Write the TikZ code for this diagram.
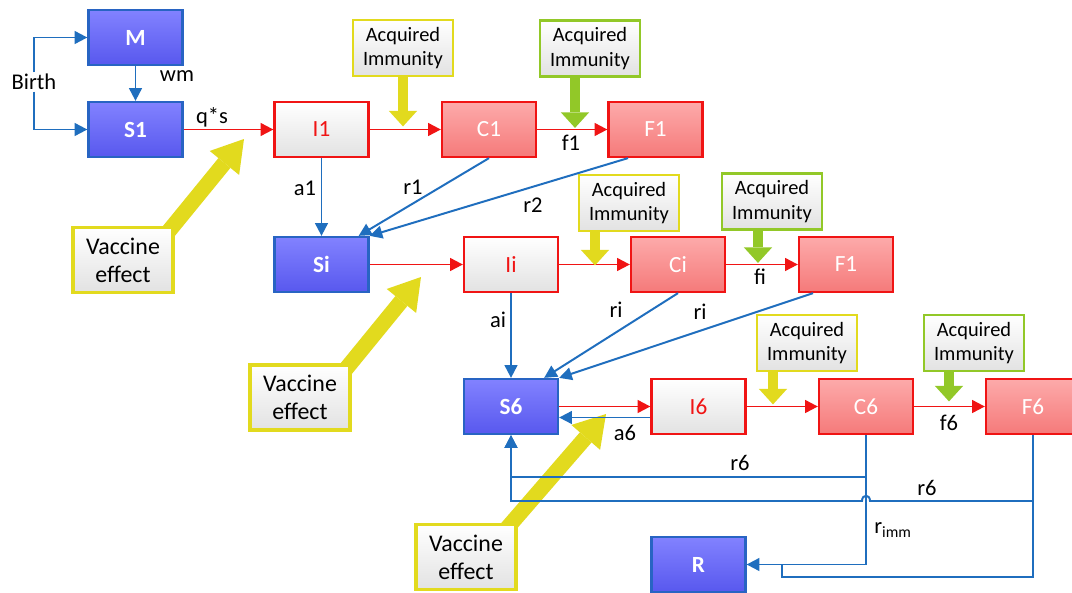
\documentclass[tikz,border=0pt]{standalone}
\usepackage{fontspec}
\setmainfont{Carlito}
\usepackage{tikz}
\usetikzlibrary{arrows.meta, positioning, calc}
\definecolor{linkblue}{RGB}{31,110,190}
\definecolor{boxedge}{RGB}{40,100,195}
\definecolor{bluetop}{RGB}{130,130,255}
\definecolor{bluebot}{RGB}{88,88,238}
\definecolor{redline}{RGB}{240,20,20}
\definecolor{redtop}{RGB}{253,170,170}
\definecolor{redbot}{RGB}{245,122,122}
\definecolor{greybot}{RGB}{226,226,226}
\definecolor{vacyellow}{RGB}{226,218,30}
\definecolor{immgreen}{RGB}{146,200,40}

\begin{document}
\begin{tikzpicture}[x=0.025cm, y=-0.025cm,
		box/.style={draw, line width=1.6pt, minimum width=2.35cm, minimum height=1.375cm, inner sep=0pt, font=\fontsize{16.5}{18}\selectfont},
		sbox/.style={box, draw=boxedge, top color=bluetop, bottom color=bluebot, text=white, font=\fontsize{16.5}{18}\selectfont\bfseries},
		ibox/.style={box, draw=redline, top color=white, bottom color=greybot, text=redline},
		cbox/.style={box, draw=redline, top color=redtop, bottom color=redbot, text=white},
		immbox/.style={draw, line width=2pt, top color=white, bottom color=greybot, minimum width=2.5cm, minimum height=1.4cm, inner sep=0pt, align=center, font=\fontsize{14.5}{17.5}\selectfont},
		vacbox/.style={draw=vacyellow, line width=2.2pt, top color=white, bottom color=greybot, minimum width=2.5cm, minimum height=1.625cm, inner sep=0pt, align=center, font=\fontsize{17}{20}\selectfont},
		lbl/.style={font=\fontsize{16}{18}\selectfont, inner sep=1pt},
		redarr/.style={draw=redline, line width=1.4pt, -{Triangle[width=9pt,length=9pt]}},
		bluearr/.style={draw=linkblue, line width=1.4pt, -{Triangle[width=9pt,length=9pt]}},
		blueline/.style={draw=linkblue, line width=1.4pt},
		immarr/.style={line width=7pt, -{Triangle[width=20pt,length=11pt,line width=0pt]}},
		vacarr/.style={draw=vacyellow, line width=11pt, -{Triangle[width=27pt,length=22pt,line width=0pt]}}]
			\fill[white] (0,0) rectangle (1072,592);
			\clip (0,0) rectangle (1072,592);
			\draw[vacarr] (164,237) -- (244,139);
			\draw[vacarr] (341,375) -- (421,277);
			\draw[vacarr] (502,534) -- (606,414);
			\node[sbox] (M) at (135.5,37.5) {M};
			\node[sbox] (S1) at (135.5,129.5) {S1};
			\node[ibox] (I1) at (321.5,129.5) {I1};
			\node[cbox] (C1) at (489,129.5) {C1};
			\node[cbox] (F1) at (655.5,129.5) {F1};
			\node[sbox] (Si) at (321.5,264.5) {Si};
			\node[ibox] (Ii) at (511,264.5) {Ii};
			\node[cbox] (Ci) at (678,264.5) {Ci};
			\node[cbox] (F1b) at (846,264.5) {F1};
			\node[sbox] (S6) at (511,406.5) {S6};
			\node[ibox] (I6) at (698.5,406.5) {I6};
			\node[cbox] (C6) at (866,406.5) {C6};
			\node[cbox] (F6) at (1033,406.5) {F6};
			\node[sbox] (R) at (698.5,564.5) {R};
			\node[immbox, draw=vacyellow] (A1) at (403,48) {Acquired\\Immunity};
			\node[immbox, draw=immgreen] (A2) at (590,48.5) {Acquired\\Immunity};
			\node[immbox, draw=vacyellow] (A3) at (629,203) {Acquired\\Immunity};
			\node[immbox, draw=immgreen] (A4) at (772,201.5) {Acquired\\Immunity};
			\node[immbox, draw=vacyellow] (A5) at (807,343) {Acquired\\Immunity};
			\node[immbox, draw=immgreen] (A6) at (974,343) {Acquired\\Immunity};
			\node[vacbox] (V1) at (123,260) {Vaccine\\effect};
			\node[vacbox] (V2) at (300,397.5) {Vaccine\\effect};
			\node[vacbox] (V3) at (466,557) {Vaccine\\effect};
			\node[lbl] (birth) at (34,82) {Birth};
			\draw[bluearr] (birth.north) |- (M.west);
			\draw[bluearr] (birth.south) |- (S1.west);
			\foreach \from/\to in {M/S1,I1/Si,Ii/S6}
				\draw[bluearr] (\from) -- (\to);
			\foreach \from/\to in {S1/I1,I1/C1,C1/F1,Si/Ii,Ii/Ci,Ci/F1b,S6/I6,I6/C6,C6/F6}
				\draw[redarr] (\from) -- (\to);
			\draw[bluearr] ([yshift=-0.275cm]I6.west) -- ([yshift=-0.275cm]S6.east);
			\draw[bluearr] (C1.south) -- ([xshift=-0.275cm]Si.north east);
			\draw[bluearr] ([xshift=-0.6875cm]F1.south) -- (Si.north east);
			\draw[bluearr] (Ci.south) -- ([xshift=-0.375cm]S6.north east);
			\draw[bluearr] ([xshift=-0.825cm]F1b.south) -- (S6.north east);
			\draw[bluearr] (C6.south) -- (C6.south |- 0,477) -| (S6.south);
			\draw[bluearr] (C6.south) |- (R.east);
			\draw[bluearr] (F6.south) -- (F6.south |- 0,501) -- (870,501) .. controls (870,494) and (862,494) .. (862,501) -| (S6.south);
			\draw[blueline] (F6.south |- 0,501) |- (782,577) -- (782,564.5);
			\draw[immarr, vacyellow] (A1.south) -- ++(0,49);
			\draw[immarr, immgreen] ([xshift=-0.375cm]A2.south) -- ++(0,50);
			\draw[immarr, vacyellow] ([xshift=-0.85cm]A3.south) -- ++(0,33);
			\draw[immarr, immgreen] ([xshift=-0.35cm]A4.south) -- ++(0,32);
			\draw[immarr, vacyellow] ([xshift=-0.85cm]A5.south) -- ++(0,32);
			\draw[immarr, immgreen] ([xshift=-0.625cm]A6.south) -- ++(0,29);
			\node[lbl] (wm) at (177,76) {wm};
			\node[lbl] (qs) at (212,117) {q*s};
			\node[lbl] (a1) at (305,188) {a1};
			\node[lbl] (r1) at (413,187) {r1};
			\node[lbl] (r2) at (533,205) {r2};
			\node[lbl] (f1) at (571,143) {f1};
			\node[lbl] (ai) at (498,320) {ai};
			\node[lbl] (ri) at (616,310) {ri};
			\node[lbl] (rib) at (700,312) {ri};
			\node[lbl] (fi) at (760,277) {fi};
			\node[lbl] (a6) at (625,433) {a6};
			\node[lbl] (f6) at (949,423) {f6};
			\node[lbl] (r6) at (740,463) {r6};
			\node[lbl] (r6b) at (927,488) {r6};
			\node[lbl] (rimm) at (893,530) {r\textsubscript{imm}};
		\end{tikzpicture}
\end{document}
